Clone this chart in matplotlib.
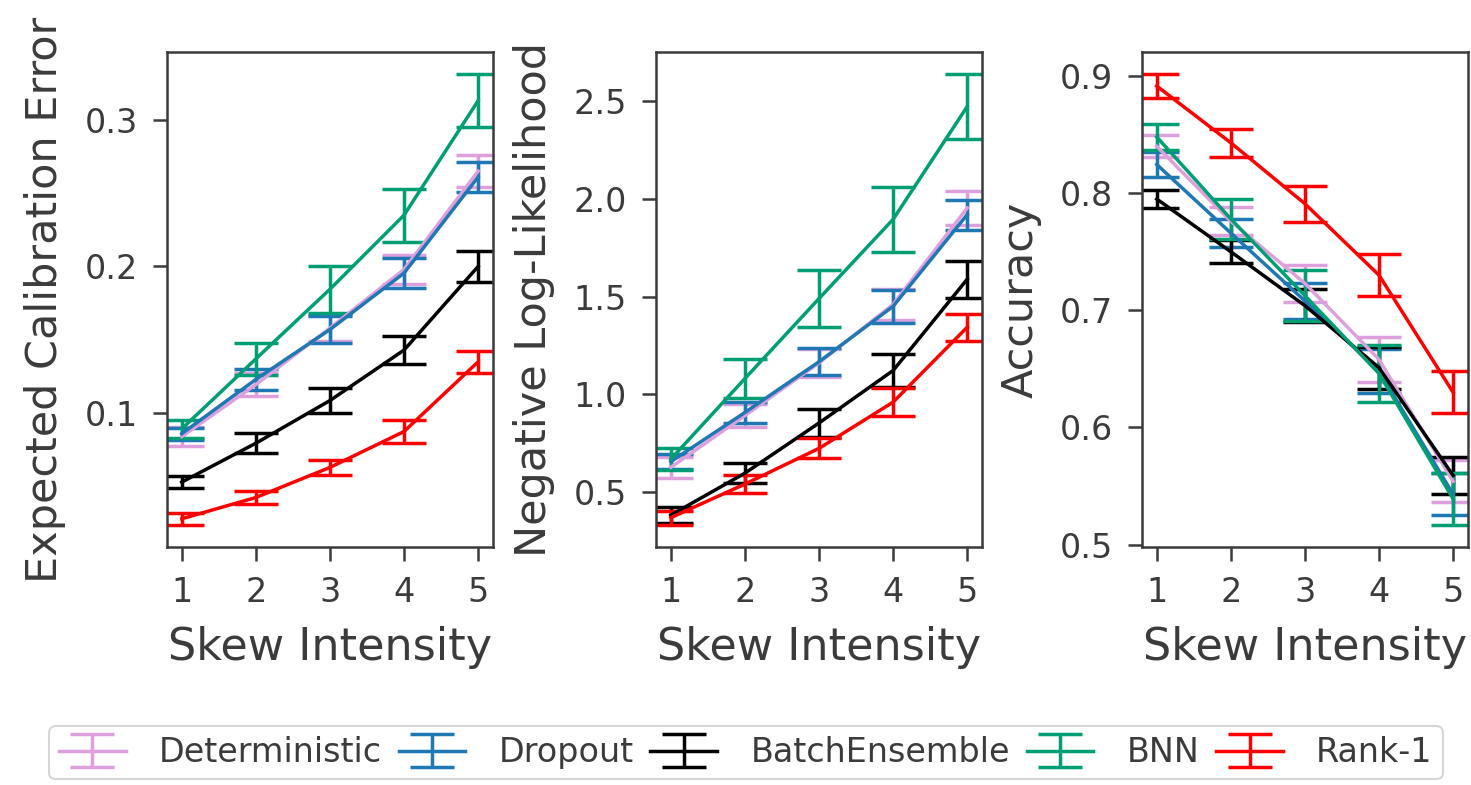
import matplotlib
matplotlib.use("Agg")
import matplotlib.pyplot as plt
import numpy as np

# skew intensities on the x axis
skew = [1, 2, 3, 4, 5]

methods = ["Deterministic", "Dropout", "BatchEnsemble", "BNN", "Rank-1"]
colors = ["#dda0dd", "#1f77b4", "black", "#009e73", "red"]

# expected calibration error (mean, error)
ece_det = [0.084, 0.1195, 0.158, 0.198, 0.265]
ece_drop = [0.086, 0.123, 0.157, 0.1955, 0.261]
ece_be = [0.053, 0.0795, 0.1086, 0.143, 0.200]
ece_bnn = [0.0893, 0.137, 0.1845, 0.235, 0.313]
ece_rank1 = [0.028, 0.0425, 0.063, 0.0875, 0.135]
ece_det_err = [0.0066, 0.0077, 0.009, 0.010, 0.011]
ece_drop_err = [0.004, 0.0074, 0.009, 0.010, 0.010]
ece_be_err = [0.004, 0.007, 0.0085, 0.0095, 0.0105]
ece_bnn_err = [0.006, 0.011, 0.016, 0.018, 0.018]
ece_rank1_err = [0.004, 0.0042, 0.005, 0.008, 0.0074]

# negative log-likelihood
nll_det = [0.625, 0.89, 1.16, 1.46, 1.954]
nll_drop = [0.654, 0.906, 1.166, 1.45, 1.92]
nll_be = [0.38, 0.595, 0.852, 1.121, 1.589]
nll_bnn = [0.667, 1.08, 1.49, 1.896, 2.474]
nll_rank1 = [0.367, 0.539, 0.722, 0.959, 1.343]
nll_det_err = [0.055, 0.06, 0.07, 0.08, 0.088]
nll_drop_err = [0.04, 0.055, 0.068, 0.085, 0.077]
nll_be_err = [0.043, 0.053, 0.07, 0.084, 0.094]
nll_bnn_err = [0.055, 0.10, 0.148, 0.166, 0.165]
nll_rank1_err = [0.036, 0.047, 0.051, 0.071, 0.07]

# accuracy
acc_det = [0.840, 0.776, 0.723, 0.658, 0.554]
acc_drop = [0.8245, 0.766, 0.708, 0.648, 0.543]
acc_be = [0.795, 0.750, 0.704, 0.651, 0.559]
acc_bnn = [0.848, 0.778, 0.7125, 0.646, 0.539]
acc_rank1 = [0.8915, 0.843, 0.791, 0.730, 0.63]
acc_det_err = [0.0094, 0.012, 0.016, 0.019, 0.018]
acc_drop_err = [0.0104, 0.012, 0.015, 0.019, 0.018]
acc_be_err = [0.0077, 0.01, 0.014, 0.018, 0.016]
acc_bnn_err = [0.011, 0.017, 0.022, 0.024, 0.022]
acc_rank1_err = [0.01, 0.012, 0.0153, 0.018, 0.018]

ece_ticks = [0.1, 0.2, 0.3]
nll_ticks = [0.5, 1.0, 1.5, 2.0, 2.5]
acc_ticks = [0.5, 0.6, 0.7, 0.8, 0.9]

panels = [
    ("Expected Calibration Error", ece_ticks,
     [ece_det, ece_drop, ece_be, ece_bnn, ece_rank1],
     [ece_det_err, ece_drop_err, ece_be_err, ece_bnn_err, ece_rank1_err]),
    ("Negative Log-Likelihood", nll_ticks,
     [nll_det, nll_drop, nll_be, nll_bnn, nll_rank1],
     [nll_det_err, nll_drop_err, nll_be_err, nll_bnn_err, nll_rank1_err]),
    ("Accuracy", acc_ticks,
     [acc_det, acc_drop, acc_be, acc_bnn, acc_rank1],
     [acc_det_err, acc_drop_err, acc_be_err, acc_bnn_err, acc_rank1_err]),
]

text_gray = "#3b3b3b"
plt.rcParams["font.family"] = ["DejaVu Sans"]
plt.rcParams["text.color"] = text_gray
plt.rcParams["axes.labelcolor"] = text_gray
plt.rcParams["xtick.color"] = text_gray
plt.rcParams["ytick.color"] = text_gray
plt.rcParams["axes.edgecolor"] = "#3b3b3b"

fig = plt.figure(figsize=(14.71, 7.85), dpi=100)
lefts = [0.1135, 0.446, 0.7763]

for left, (ylabel, yticks, means, errs) in zip(lefts, panels):
    ax = fig.add_axes([left, 0.303, 0.2216, 0.631])
    for name, color, m, e in zip(methods, colors, means, errs):
        ax.errorbar(skew, m, yerr=e, color=color, lw=2.5, elinewidth=2.5,
                    capsize=16, capthick=2.5, label=name)
    ax.set_xticks(skew)
    ax.set_yticks(yticks)
    ax.set_yticklabels([f"{t:.1f}" for t in yticks])
    ax.set_xlim(0.8, 5.2)
    ax.set_xlabel("Skew Intensity", fontsize=32, labelpad=12)
    ax.set_ylabel(ylabel, fontsize=31, labelpad=13)
    ax.tick_params(labelsize=24, length=10, width=1.8, pad=11)
    for s in ax.spines.values():
        s.set_linewidth(1.8)

handles, labels = ax.get_legend_handles_labels()
leg = fig.legend(handles, labels, loc="center", bbox_to_anchor=(0.507, 0.041),
                 ncol=5, fontsize=24, handlelength=2.0, handletextpad=1.0,
                 columnspacing=0.5, frameon=True, borderpad=0.3)
leg.get_frame().set_edgecolor("#cccccc")
leg.get_frame().set_linewidth(1.5)

fig.savefig("out.png", dpi=100)
